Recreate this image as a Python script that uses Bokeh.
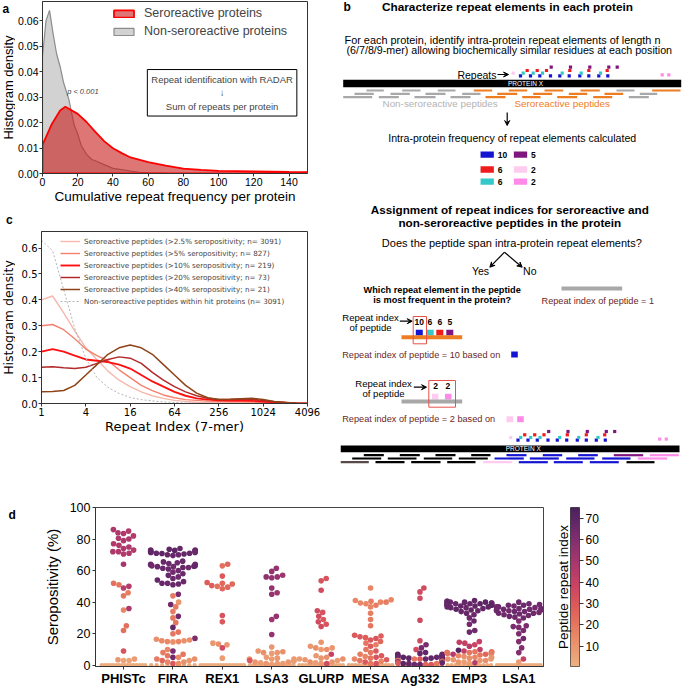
import numpy as np
from bokeh.plotting import figure
from bokeh.models import (Range1d, FixedTicker, Legend, LegendItem, Label, LinearColorMapper,
                          ColumnDataSource, Arrow, VeeHead, LinearAxis, NumeralTickFormatter, Div)
from bokeh.layouts import row, column
from bokeh.embed import file_html
from bokeh.resources import INLINE
from bokeh.core.properties import value

SANS = "Liberation Sans"
MPL = "DejaVu Sans"

# ---------------- panel a : cumulative repeat frequency densities
a_sero_x = [0, 5, 10, 13, 20, 25, 30, 35, 40, 45, 50, 60, 70, 80, 90, 100, 120, 140, 152]
a_sero_y = [0.0112, 0.019, 0.0247, 0.0262, 0.0234, 0.0202, 0.0163, 0.0127, 0.0099, 0.008,
            0.0063, 0.0045, 0.0031, 0.0019, 0.0014, 0.0010, 0.0008, 0.0006, 0.0005]
a_non_x = [0, 2, 4, 6, 8, 10, 12, 15, 18, 20, 22, 25, 28, 30, 35, 40, 45, 50, 55, 60, 70, 80, 100, 152]
a_non_y = [0.046, 0.060, 0.064, 0.055, 0.047, 0.042, 0.0356, 0.029, 0.019, 0.0155, 0.011, 0.0075,
           0.0055, 0.005, 0.0035, 0.002, 0.0015, 0.0009, 0.0005, 0.0003, 0.0001, 0.0, 0.0, 0.0]
a_xticks = [0, 20, 40, 60, 80, 100, 120, 140]
a_yticks = [0.0, 0.01, 0.02, 0.03, 0.04, 0.05, 0.06]
a_yrange = (0, 0.0675)

# ---------------- panel c : repeat index densities (x = repeat index, log2 axis)
c_x = [1, 1.414, 2, 2.828, 4, 5.657, 8, 11.31, 16, 22.63, 32, 45.25, 64, 90.51, 128, 181.0,
       256, 362.0, 512, 724.1, 1024, 1448, 2048, 2896, 4096]
c_non = [0.63, 0.59, 0.44, 0.29, 0.175, 0.10, 0.062, 0.039, 0.023, 0.015, 0.01, 0.006, 0.004,
         0.002, 0.001, 0.0005, 0.0003, 0.0002, 0.0001, 0.0, 0.0, 0.0, 0.0, 0.0, 0.0]
c_s25 = [0.40, 0.415, 0.35, 0.28, 0.215, 0.17, 0.125, 0.09, 0.065, 0.045, 0.03, 0.02, 0.012,
         0.008, 0.005, 0.004, 0.003, 0.0025, 0.002, 0.0018, 0.0015, 0.001, 0.0005, 0.0002, 0.0]
c_s5 = [0.30, 0.305, 0.285, 0.25, 0.21, 0.185, 0.165, 0.13, 0.10, 0.07, 0.05, 0.033, 0.022,
        0.015, 0.012, 0.009, 0.008, 0.007, 0.007, 0.006, 0.005, 0.003, 0.002, 0.001, 0.0]
c_s10 = [0.20, 0.21, 0.20, 0.185, 0.17, 0.165, 0.16, 0.15, 0.135, 0.11, 0.085, 0.065, 0.045,
         0.03, 0.02, 0.015, 0.012, 0.011, 0.011, 0.01, 0.008, 0.005, 0.003, 0.001, 0.0]
c_s20 = [0.14, 0.142, 0.138, 0.135, 0.14, 0.155, 0.17, 0.18, 0.175, 0.155, 0.12, 0.09, 0.065,
         0.045, 0.03, 0.02, 0.015, 0.015, 0.016, 0.016, 0.012, 0.007, 0.004, 0.001, 0.0]
c_s40 = [0.045, 0.046, 0.05, 0.07, 0.11, 0.15, 0.19, 0.215, 0.226, 0.215, 0.19, 0.15, 0.11,
         0.07, 0.04, 0.022, 0.015, 0.016, 0.018, 0.02, 0.015, 0.008, 0.004, 0.001, 0.0]
c_labels = ["Seroreactive peptides (>2.5% seropositivity; n= 3091)",
            "Seroreactive peptides (>5% seropositivity; n= 827)",
            "Seroreactive peptides (>10% seropositivity; n= 219)",
            "Seroreactive peptides (>20% seropositivity; n= 73)",
            "Seroreactive peptides (>40% seropositivity; n= 21)",
            "Non-seroreactive\u2009peptides within hit proteins (n= 3091)"]
c_xticks = [1, 4, 16, 64, 256, 1024, 4096]
c_yticks = [0.0, 0.1, 0.2, 0.3, 0.4, 0.5, 0.6]
c_yrange = (0, 0.664)

# ---------------- panel d : seropositivity swarm, coloured by peptide repeat index
d_cats = ["PHISTc", "FIRA", "REX1", "LSA3", "GLURP", "MESA", "Ag332", "EMP3", "LSA1"]
phistc_sero = [86, 85, 84, 83.5, 82, 80.5, 80, 79, 77, 76, 75, 74, 73, 72, 72, 71, 70.5,
               64, 52, 51, 50, 49, 46, 44, 36, 35, 25, 22, 9, 4, 3.5, 3, 3]
phistc_idx = [47, 46, 48, 47, 46, 47, 48, 47, 46, 47, 48, 47, 46, 47, 48, 47, 46,
              50, 22, 20, 45, 44, 18, 20, 48, 15, 22, 22, 32, 8, 10, 5, 5]
fira_sero = [74, 73.5, 73, 73, 72.8, 72.5, 72.5, 72.2, 72, 72, 71.8, 71.5, 71.5, 71, 71, 70.8, 70.5, 70, 70, 69.5,
             66, 65.5, 65, 64.5, 64, 64, 63.5, 63.5, 63, 63, 62.8, 62.5, 62.5, 62, 62, 61.5, 61, 60, 59,
             58, 57, 56, 55, 54, 53, 52, 52, 51.5, 51,
             45, 44, 40, 38.5, 37, 34, 31, 30, 27, 24, 21, 20, 17, 16.5, 16, 15.5, 15.5, 15, 15, 14.8,
             10, 9, 8, 7, 6, 5, 5, 4, 4, 3, 3, 2, 2, 1, 1]
fira_idx = [68, 69, 67, 68, 70, 68, 66, 69, 68, 67, 68, 69, 66, 68, 67, 69, 68, 66, 68, 67,
            66, 67, 65, 66, 68, 64, 66, 67, 65, 66, 68, 64, 66, 67, 65, 66, 66, 65, 64,
            66, 67, 65, 66, 68, 66, 65, 67, 66, 68,
            62, 18, 10, 64, 18, 18, 64, 20, 20, 68, 20, 20, 62, 12, 12, 12, 14, 15, 15, 12,
            15, 62, 18, 20, 20, 65, 15, 18, 12, 25, 10, 15, 12, 30, 12]
rex1_sero = [64, 63, 56.5, 52.5, 52, 51.5, 50.5, 50, 49.5, 48.5, 31.5, 27.5, 14, 13.5, 13, 11, 4.5]
rex1_idx = [25, 22, 30, 28, 25, 25, 28, 22, 25, 25, 32, 30, 10, 12, 10, 35, 8]
lsa3_sero = [61.5, 59.5, 57, 56, 56, 55.5, 49, 46, 45, 31, 29, 19.5, 11.5, 9, 8.5, 8, 8, 7.5,
             5, 4.5, 4, 4, 4, 3.5, 3, 3, 2.5, 2, 2, 1.5, 1, 1, 1, 0.5]
lsa3_idx = [55, 55, 52, 55, 56, 55, 55, 52, 55, 55, 52, 55, 10, 10, 12, 10, 12, 8,
            8, 10, 8, 10, 8, 12, 30, 8, 8, 10, 10, 8, 8, 10, 8, 8]
glurp_sero = [55, 53.5, 47.5, 34.5, 33.5, 31, 29, 27.5, 26, 24.5, 14.5, 12, 11, 11, 10, 10, 7, 6,
              5, 4.5, 4, 4, 3.5, 3, 2, 2, 1.5, 1, 1]
glurp_idx = [32, 32, 35, 35, 32, 35, 30, 35, 32, 35, 10, 10, 12, 10, 8, 12, 40, 10,
             12, 10, 8, 12, 10, 8, 10, 12, 8, 10, 35]
mesa_sero = [49, 41.5, 41, 40.5, 40, 40, 39.5, 39, 38, 37, 33, 29, 25, 19, 18.5, 18, 17.5, 17, 16,
             15, 14, 13, 12, 10, 9, 8, 7, 6, 5.5, 5, 4.5, 4, 3.5, 3, 2.5, 2, 1, 1]
mesa_idx = [15, 15, 15, 18, 15, 18, 15, 15, 18, 15, 18, 18, 20, 30, 28, 30, 28, 32, 30,
            25, 20, 18, 28, 20, 30, 20, 18, 30, 15, 32, 20, 15, 28, 20, 15, 30, 20, 32]
ag332_sero = [49, 46.5, 42.5, 28.5, 15.5, 13, 11, 10, 8, 7.5, 7, 7, 6.5, 6.5, 6, 6, 5.5, 5.5, 5.5,
              5, 5, 5, 5, 4.5, 4.5, 4, 4, 4, 3.5, 3.5, 3, 3, 3, 3, 2.5, 2.5, 2.5, 2, 2, 2, 2,
              1.5, 1.5, 1, 1, 1, 0.5, 0.5, 0.5, 0.5]
ag332_idx = [35, 35, 35, 35, 35, 62, 62, 35, 68, 68, 70, 66, 68, 70, 68, 66, 68, 70, 66,
             68, 70, 68, 66, 68, 70, 30, 68, 20, 68, 66, 25, 68, 15, 70, 68, 30, 20, 68, 25, 15, 66,
             68, 30, 68, 20, 70, 68, 25, 66, 30]
emp3_sero = [41, 40.5, 40.5, 40, 40, 40, 39.5, 39.5, 39.5, 39, 39, 39, 38.5, 38.5, 38.5, 38, 38, 38,
             37.5, 37.5, 37, 37, 36.5, 36.5, 36, 35.5, 35, 34.5, 34, 33, 32, 30, 28, 26, 22, 21,
             15, 14.5, 14, 13, 12, 10, 9.5, 9, 8.5, 8.5, 8, 8, 8, 8, 7.5, 7.5, 7, 7, 6.5, 6,
             5.5, 5, 5, 4.5, 4, 4, 3.5, 3, 3, 2, 2, 1.5, 1]
emp3_idx = [68, 69, 67, 68, 70, 66, 68, 69, 67, 68, 70, 66, 68, 67, 69, 68, 66, 70,
            68, 67, 69, 68, 66, 68, 67, 69, 68, 66, 68, 67, 66, 65, 66, 64, 65, 65,
            40, 42, 40, 38, 45, 42, 72, 40, 20, 22, 20, 25, 22, 20, 18, 20, 25, 45, 20, 15,
            12, 15, 10, 12, 10, 12, 10, 10, 12, 8, 10, 45, 8]
lsa1_sero = [40, 39, 38.5, 38, 38, 37.5, 37, 37, 36.5, 36, 36, 35.5, 35.5, 35, 35, 34.5, 34.5, 34,
             34, 33.5, 33, 33, 32.5, 32, 31.5, 31, 30.5, 30, 28, 25, 24.5, 24, 22, 20, 17, 15, 11,
             8, 4, 2]
lsa1_idx = [65, 65, 64, 66, 65, 64, 66, 65, 64, 65, 66, 64, 65, 66, 65, 64, 65, 66,
            65, 64, 65, 66, 65, 64, 65, 66, 65, 64, 60, 62, 62, 62, 62, 62, 65, 60, 60,
            60, 40, 8]
d_zero_count = [16, 9, 16, 14, 14, 14, 10, 12, 16]
d_zero_idx = [2, 3, 2, 2, 2, 3, 20, 3, 2]
d_sero = [phistc_sero, fira_sero, rex1_sero, lsa3_sero, glurp_sero, mesa_sero, ag332_sero, emp3_sero, lsa1_sero]
d_idx = [phistc_idx, fira_idx, rex1_idx, lsa3_idx, glurp_idx, mesa_idx, ag332_idx, emp3_idx, lsa1_idx]
d_yticks = [0, 20, 40, 60, 80, 100]
d_yrange = (-0.8, 100)
cb_ticks = [10, 20, 30, 40, 50, 60, 70]
cb_low, cb_high = 0.5, 75

# flare-like colour ramp (light peach -> dark purple)
flare_stops = [(237, 176, 129), (234, 150, 110), (230, 121, 96), (222, 92, 90), (204, 68, 99),
               (176, 57, 108), (144, 50, 112), (108, 41, 108), (74, 33, 92)]


def make_palette(stops, n=256):
    pts = np.linspace(0, 1, len(stops))
    arr = np.array(stops, float)
    out = []
    for t in np.linspace(0, 1, n):
        r = np.interp(t, pts, arr[:, 0]); g = np.interp(t, pts, arr[:, 1]); b = np.interp(t, pts, arr[:, 2])
        out.append("#%02x%02x%02x" % (int(round(r)), int(round(g)), int(round(b))))
    return out


def style_axes(p, font, tick_size, label_size):
    for ax in p.axis:
        ax.major_label_text_font = font
        ax.major_label_text_font_size = tick_size
        ax.axis_label_text_font = font
        ax.axis_label_text_font_size = label_size
        ax.axis_label_text_font_style = "normal"
        ax.major_tick_in = 0
        ax.major_tick_out = 3
        ax.minor_tick_line_color = None
        ax.axis_line_color = "#333333"
        ax.major_tick_line_color = "#333333"
        ax.major_label_text_color = "black"
        ax.axis_label_text_color = "black"
        ax.major_label_standoff = 1
        ax.axis_label_standoff = 0


def strip(width, height, yr, letter_txt, ylab, font, size):
    """Narrow figure left of a panel (its frame lines up with the panel's frame):
    holds the panel letter at the top and the rotated y-axis title at mid-height."""
    s = figure(width=width, height=height, x_range=Range1d(0, width), y_range=Range1d(*yr),
               output_backend="svg", toolbar_location=None, min_border=0)
    s.axis.visible = False
    s.grid.visible = False
    s.outline_line_color = None
    if letter_txt:
        s.text(x=[2 if width < 18 else 8], y=[yr[1]], text=[letter_txt], text_font=value(SANS),
               text_font_size="12px", text_font_style="bold", text_baseline="top", text_align="left")
    if ylab:
        s.text(x=[width / 2], y=[(yr[0] + yr[1]) / 2], text=[ylab], text_font=value(font),
               text_font_size=size, angle=np.pi / 2, text_align="center", text_baseline="middle")
    return s


# =============== panel a ===============
STRIP_W = 15
pa = figure(width=340 - STRIP_W, height=206, x_range=Range1d(0, 150.5), y_range=Range1d(*a_yrange),
            output_backend="svg", toolbar_location=None,
            min_border_left=41 - STRIP_W, min_border_right=33, min_border_top=1, min_border_bottom=30)
pa.grid.visible = False
pa.outline_line_color = "#333333"
non_px = [0] + a_non_x + [a_non_x[-1]]
non_py = [0] + a_non_y + [0]
sero_px = [0] + a_sero_x + [a_sero_x[-1]]
sero_py = [0] + a_sero_y + [0]
leg_n = pa.patch(x=non_px, y=non_py, fill_color="#d2d2d2", line_color="#8c8c8c", line_width=1.2)
leg_s = pa.patch(x=sero_px, y=sero_py, fill_color="#c81b1b", fill_alpha=0.6, line_color="#ff0000",
                 line_width=1.8)
la = Legend(items=[LegendItem(label="Seroreactive proteins", renderers=[leg_s]),
                   LegendItem(label="Non-seroreactive proteins", renderers=[leg_n])],
            location=(69, 133), padding=0, spacing=0, margin=0, glyph_width=25, glyph_height=9,
            label_height=18, label_standoff=8, label_text_font=SANS, label_text_font_size="12.5px",
            border_line_color=None, background_fill_alpha=0)
pa.add_layout(la)
pa.xaxis.axis_label = "Cumulative repeat frequency per protein"
pa.xaxis.ticker = FixedTicker(ticks=a_xticks)
pa.yaxis.ticker = FixedTicker(ticks=a_yticks)
pa.yaxis.formatter = NumeralTickFormatter(format="0.00")
style_axes(pa, SANS, "10.5px", "13.5px")
pa.add_layout(Label(x=14, y=0.0305, text="p < 0.001", text_font=SANS, text_font_size="7.5px",
                    text_font_style="italic"))
pa.add_layout(Label(x=102, y=0.0408, text="Repeat identification with RADAR\n\u2193\nSum of repeats per protein",
                    text_font=SANS, text_font_size="9.5px", text_align="center", text_baseline="top",
                    border_line_color="black", border_line_width=1, padding=4, text_line_height=1.25))
sa = strip(STRIP_W, 206, a_yrange, "a", "Histogram density", SANS, "13px")

# letter c sits in the gap between panels a and c
c_div = Div(text='<div style="font-family: \'Liberation Sans\', Arial, sans-serif; font-weight: bold; '
                 'font-size: 12px; line-height: 12px; padding-left: 6px; padding-top: 8px;">c</div>',
            width=340, height=24, margin=(0, 0, 0, 0))

# =============== panel c ===============
pc = figure(width=340 - STRIP_W, height=206, x_axis_type="log", x_range=Range1d(1, 4096),
            y_range=Range1d(*c_yrange), output_backend="svg", toolbar_location=None,
            min_border_left=41 - STRIP_W, min_border_right=33, min_border_top=1, min_border_bottom=33)
pc.grid.visible = False
pc.outline_line_color = "#333333"
c_series = [c_s25, c_s5, c_s10, c_s20, c_s40]
c_colors = ["#f6b8ad", "#f4806e", "#ff1010", "#b22a2a", "#8f4318"]
c_widths = [1.4, 1.4, 1.9, 1.5, 1.5]
c_items = []
for ys, col, w, lab in zip(c_series, c_colors, c_widths, c_labels[:5]):
    r = pc.line(c_x, ys, line_color=col, line_width=w)
    c_items.append(LegendItem(label=lab, renderers=[r]))
rn = pc.line(c_x, c_non, line_color="#b4b4b4", line_width=1, line_dash="2 2")
c_items.append(LegendItem(label=c_labels[5], renderers=[rn]))
lc = Legend(items=c_items, location=(19, 96), padding=0, spacing=0, margin=0, glyph_width=20,
            glyph_height=8, label_height=12, label_standoff=4, label_text_font=MPL,
            label_text_font_size="7.2px", border_line_color=None, background_fill_alpha=0)
pc.add_layout(lc)
pc.xaxis.ticker = FixedTicker(ticks=c_xticks)
pc.xaxis.major_label_overrides = {t: str(t) for t in c_xticks}
pc.yaxis.ticker = FixedTicker(ticks=c_yticks)
pc.yaxis.formatter = NumeralTickFormatter(format="0.0")
pc.xaxis.axis_label = "Repeat Index (7-mer)"
style_axes(pc, MPL, "10px", "13px")
sc = strip(STRIP_W, 206, c_yrange, None, "Histogram density", MPL, "12.5px")

# =============== panel b (schematic) ===============
pb = figure(width=344, height=466, x_range=Range1d(340, 684), y_range=Range1d(466, 0),
            output_backend="svg", toolbar_location=None, min_border=0)
pb.axis.visible = False
pb.grid.visible = False
pb.outline_line_color = None

BLUE, CYAN, RED, PURPLE, LPINK, PINK = "#1414d2", "#33c9c9", "#ee1c1c", "#7f167f", "#ffccf0", "#ff8ae8"
MAROON = "#6b1f1f"
rep_blue_x = [520, 530, 539.3, 550, 559.3, 568.7, 579.3, 588.3, 598.3, 607.3]
rep_cyan_x = [522.7, 532.7, 542, 561.7, 580.7, 600]
rep_red_x = [526.7, 536.7, 546, 569.3, 588.3, 606.7]
rep_purple_x = [550.7, 570, 589.3, 608.3, 616.7]
rep_lpink_x = [512.7]
rep_pink_x = [661.7, 668.3]
rep_rows = [(rep_blue_x, 75.3, BLUE), (rep_cyan_x, 72.7, CYAN), (rep_red_x, 70.0, RED),
            (rep_purple_x, 66.7, PURPLE), (rep_lpink_x, 72.7, LPINK), (rep_pink_x, 74.3, PINK)]
for dx, dy in [(0, 0), (-2.5, 364.3)]:
    for xs, yy, col in rep_rows:
        pb.rect(x=[v + dx for v in xs], y=[yy + dy] * len(xs), width=3.2, height=3.2,
                fill_color=col, line_color=None)

# protein bars
pb.quad(left=[342.7, 340], right=[680.7, 679], top=[79.3, 445], bottom=[86.7, 451.7],
        fill_color="black", line_color=None)

top_pep_x0 = [366, 401.7, 437.3, 473.3, 508.3, 544, 580, 616, 651.7,
              354, 390, 425, 461.7, 496.7, 532.7, 568.3, 604, 639.3,
              342.7, 378.3, 414, 450, 485, 521.7, 556.7, 592.7, 628.3]
top_pep_x1 = [383.3, 420, 455, 491.7, 526.7, 562.7, 599.3, 634, 680,
              373.3, 409.3, 445, 480, 516.7, 551.7, 586.7, 622.7, 656.7,
              371.7, 398.3, 435, 470, 505, 540, 576.7, 611.7, 648.3]
top_pep_y = [90, 90, 90, 90, 90, 90, 90, 90, 90,
             93.3, 93.3, 93.3, 93.3, 93.3, 93.3, 93.3, 93.3, 93.3,
             96.7, 96.7, 96.7, 96.7, 96.7, 96.7, 96.7, 96.7, 96.7]
top_pep_sero = [0, 0, 0, 1, 1, 1, 1, 0, 1,
                0, 0, 0, 0, 1, 1, 1, 1, 0,
                0, 0, 0, 0, 1, 1, 1, 1, 0]
ORANGE, GRAY = "#ee7d22", "#a8a8a8"
pb.segment(x0=top_pep_x0, y0=top_pep_y, x1=top_pep_x1, y1=top_pep_y, line_width=2.2,
           line_color=[ORANGE if s else GRAY for s in top_pep_sero])

bot_pep_x0 = [363.3, 399.3, 435, 470.7, 506, 542.3, 577.7, 613.3, 649.3,
              351.7, 387.3, 423.3, 458.3, 494, 529.3, 565.7, 601.7, 637.3,
              340, 375, 410.7, 446.7, 482.7, 518.3, 553.3, 589.3, 626]
bot_pep_x1 = [383.3, 419.3, 455, 490, 526, 561.7, 597.3, 642.7, 678.3,
              380.7, 416, 451.7, 487.3, 523.3, 558.3, 594, 630, 666.7,
              368.3, 404, 440, 475, 511.7, 547.3, 582.3, 618.3, 654]
bot_pep_y = [454.7, 454.7, 454.7, 454.7, 454.7, 454.7, 454.7, 454.7, 454.7,
             458, 458, 458, 458, 458, 458, 458, 458, 458,
             461.7, 461.7, 461.7, 461.7, 461.7, 461.7, 461.7, 461.7, 461.7]
bot_pep_col = ["black", "black", "black", "black", BLUE, BLUE, BLUE, PURPLE, PINK,
               "black", "black", "black", "black", BLUE, BLUE, BLUE, BLUE, PINK,
               "#5b4848", "black", "black", "black", LPINK, BLUE, BLUE, BLUE, "black"]
pb.segment(x0=bot_pep_x0, y0=bot_pep_y, x1=bot_pep_x1, y1=bot_pep_y, line_width=2.2, line_color=bot_pep_col)

# frequency legend squares
freq_vals = ["10", "6", "6", "5", "2", "2"]
freq_cols = [BLUE, RED, CYAN, PURPLE, LPINK, PINK]
freq_x = [486.7, 486.7, 486.7, 520, 520, 520]
freq_y = [154.2, 169, 181.2, 154.2, 169, 181.2]
pb.rect(x=freq_x, y=freq_y, width=13.3, height=6.3, fill_color=freq_cols, line_color=None)

# example peptides
pb.rect(x=[418.8, 429.7, 439.3, 449.3], y=[332.2] * 4, width=7, height=5.7,
        fill_color=[BLUE, CYAN, RED, PURPLE], line_color=None)
pb.rect(x=[434.7, 447.7], y=[396.2, 396.2], width=6.5, height=5.7, fill_color=[LPINK, PINK], line_color=None)
pb.rect(x=[514, 509.3, 520], y=[354, 418.7, 418.7], width=6.6, height=6, fill_color=[BLUE, LPINK, PINK],
        line_color=None)
pb.segment(x0=[401, 401, 561], y0=[336.7, 401, 288], x1=[461.7, 461.7, 621.7], y1=[336.7, 401, 288],
           line_width=4, line_color=[ORANGE, GRAY, GRAY])
pb.quad(left=[412.7, 428.3], right=[426, 455], top=[316, 380], bottom=[343.3, 406.7],
        fill_color=None, line_color="#e8524a", line_width=1)

for (x0, y0, x1, y1) in [(497, 74, 508, 74), (506.7, 112, 506.7, 125), (504, 251.7, 489.3, 266.7),
                         (504, 251.7, 521.7, 266.7), (399.3, 320.7, 411.7, 320.7), (413.3, 386.7, 426, 386.7)]:
    pb.add_layout(Arrow(x_start=x0, y_start=y0, x_end=x1, y_end=y1, line_width=1.2, line_color="black",
                        end=VeeHead(size=5, line_color="black", fill_color="black", line_width=1)))


def btext(texts, xs, ys, size, color="black", bold=False, align="left"):
    pb.text(x=xs, y=ys, text=texts, text_font=value(SANS), text_font_size=size, text_color=color,
            text_font_style="bold" if bold else "normal", text_align=align, text_baseline="middle")


btext(["b"], [343], [6.5], "12px", bold=True)
btext(["Characterize repeat elements in each protein"], [507], [6.5], "11.8px", bold=True, align="center")
btext(["For each protein, identify intra-protein repeat elements of length n"], [344], [39], "10.9px")
btext(["(6/7/8/9-mer) allowing biochemically similar residues at each position"], [346], [49], "10.7px")
btext(["Repeats"], [496], [74], "10.5px", align="right")
btext(["PROTEIN X", "PROTEIN X"], [525, 522.7], [83.2, 448.4], "6.5px", color="white", align="center")
btext(["Non-seroreactive peptides"], [382], [103.3], "9.9px", color="#b3b3b3")
btext(["Seroreactive peptides"], [514], [103.3], "9.9px", color=ORANGE)
btext(["Intra-protein frequency of repeat elements calculated"], [511.7], [137], "10.6px", align="center")
btext(freq_vals, [x + 10.5 for x in freq_x], freq_y, "8.5px", bold=True)
btext(["Assignment of repeat indices for seroreactive and", "non-seroreactive peptides in the protein"],
      [509.3, 509.3], [209.3, 221.7], "11.7px", bold=True, align="center")
btext(["Does the peptide span intra-protein repeat elements?"], [511.3], [242.7], "11px", align="center")
btext(["Yes", "No"], [480, 529.3], [270.7, 270.7], "10.5px", align="center")
btext(["Which repeat element in the peptide", "is most frequent in the protein?"],
      [441.7, 441.7], [289, 299], "9.2px", bold=True, align="center")
btext(["Repeat index of peptide = 1"], [541], [300], "9.2px", color=MAROON)
btext(["Repeat index", "of peptide", "Repeat index", "of peptide"], [370, 370, 383, 383],
      [316.7, 327.3, 382.7, 392.7], "9.6px", align="center")
btext(["10", "6", "6", "5", "2", "2"], [418.7, 429.3, 439.3, 449.3, 435, 447.3],
      [321.7, 321.7, 321.7, 321.7, 385, 385], "8.5px", bold=True, align="center")
btext(["Repeat index of peptide = 10 based on", "Repeat index of peptide = 2 based on"],
      [341.7, 341.7], [354, 418.7], "9.2px", color=MAROON)

# =============== panel d ===============
DS_W = 20
D_W, D_H = 552 - DS_W, 222
D_L, D_R, D_T, D_B = 95 - DS_W, 9, 41, 19
d_xr = (-0.567, 8.50)
pal = make_palette(flare_stops)
mapper = LinearColorMapper(palette=pal, low=cb_low, high=cb_high)

xpx = (D_W - D_L - D_R) / (d_xr[1] - d_xr[0])
ypx = (D_H - D_T - D_B) / (d_yrange[1] - d_yrange[0])
DOT = 5.6


def swarm_offsets(vals, d, half):
    vals = np.asarray(vals, float)
    offs = np.zeros(len(vals))
    placed = []
    for i in np.argsort(vals, kind="stable"):
        y = vals[i] * ypx
        cands = [0.0]
        for (px, py) in placed:
            dy = abs(py - y)
            if dy < d:
                dx = np.sqrt(d * d - dy * dy)
                cands.extend([px + dx, px - dx])
        cands.sort(key=abs)
        chosen = cands[-1]
        for c in cands:
            if all((px - c) ** 2 + (py - y) ** 2 >= d * d - 1e-6 for (px, py) in placed):
                chosen = c
                break
        placed.append((chosen, y))
        offs[i] = max(-half, min(half, chosen)) / xpx
    return offs


px_, py_, pi_ = [], [], []
zx, zy, zi = [], [], []
for k, (sv, iv) in enumerate(zip(d_sero, d_idx)):
    offs = swarm_offsets(sv, DOT, 0.45 * xpx)
    px_ += list(k + offs); py_ += list(sv); pi_ += list(iv)
    n = d_zero_count[k]
    zx += list(k + np.linspace(-0.44, 0.44, n)); zy += [0] * n; zi += [d_zero_idx[k]] * n

pdd = figure(width=D_W, height=D_H, x_range=Range1d(*d_xr), y_range=Range1d(*d_yrange),
             output_backend="svg", toolbar_location=None,
             min_border_left=D_L, min_border_right=D_R, min_border_top=D_T, min_border_bottom=D_B)
pdd.grid.visible = False
pdd.outline_line_color = "#444444"
pdd.scatter(x="x", y="y", size=4.3, fill_color={"field": "c", "transform": mapper}, line_color=None,
            source=ColumnDataSource(dict(x=zx, y=zy, c=zi)))
pdd.scatter(x="x", y="y", size=DOT, fill_color={"field": "c", "transform": mapper}, line_color=None,
            source=ColumnDataSource(dict(x=px_, y=py_, c=pi_)))
pdd.xaxis.ticker = FixedTicker(ticks=list(range(len(d_cats))))
pdd.xaxis.major_label_overrides = {i: c for i, c in enumerate(d_cats)}
pdd.yaxis.ticker = FixedTicker(ticks=d_yticks)
pdd.yaxis.axis_label = "Seropositivity (%)"
style_axes(pdd, SANS, "12.5px", "15px")
pdd.xaxis.major_label_text_font_style = "bold"
pdd.xaxis.major_label_text_font_size = "13px"
pdd.xaxis.major_label_standoff = 1
pdd.yaxis.axis_label_standoff = 6
pdd.yaxis.major_label_standoff = 2
sd = strip(DS_W, D_H, d_yrange, "d", None, SANS, "12px")

# colour bar panel
pcb = figure(width=132, height=D_H, x_range=Range1d(0, 1), y_range=Range1d(cb_low, cb_high),
             output_backend="svg", toolbar_location=None,
             min_border_left=17, min_border_right=105, min_border_top=D_T, min_border_bottom=D_B)
pcb.grid.visible = False
pcb.outline_line_color = "#444444"
cb_vals = np.linspace(cb_low, cb_high, 300).reshape(-1, 1)
pcb.image(image=[cb_vals], x=0, y=cb_low, dw=1, dh=cb_high - cb_low, color_mapper=mapper)
pcb.xaxis.visible = False
ax_r = LinearAxis(ticker=FixedTicker(ticks=cb_ticks))
pcb.add_layout(ax_r, "right")
style_axes(pcb, SANS, "12px", "13.5px")
pcb.yaxis[0].axis_label = "Peptide repeat index"
pcb.yaxis[0].ticker = FixedTicker(ticks=[])
pcb.yaxis[0].major_tick_out = 0
pcb.yaxis[0].axis_line_color = None
pcb.yaxis[0].major_tick_line_color = None
pcb.yaxis[0].axis_label_standoff = 0
pcb.yaxis[0].major_label_standoff = 0
ax_r.major_tick_out = 4
ax_r.major_label_standoff = 2
ax_r.axis_line_color = None

layout = column(row(column(row(sa, pa), c_div, row(sc, pc)), pb), row(sd, pdd, pcb))
open("out.html", "w").write(file_html(layout, INLINE))
